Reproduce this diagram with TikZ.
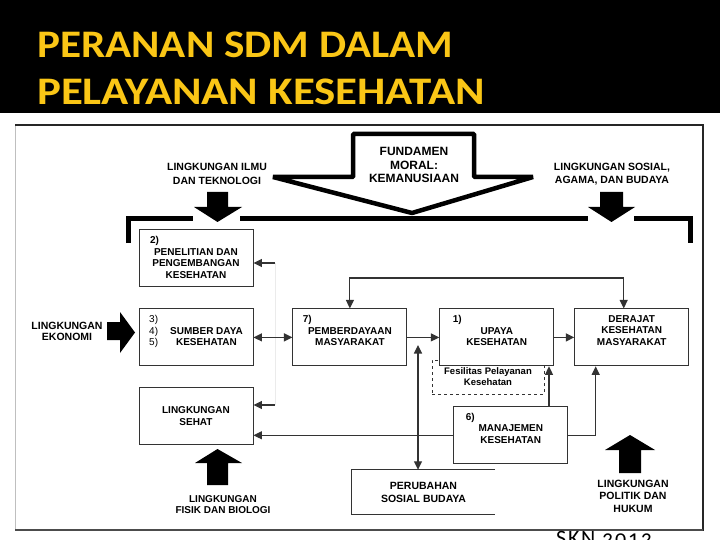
\documentclass[tikz,border=0pt]{standalone}
\usepackage{fontspec}
\setmainfont{Liberation Sans}
\newfontfamily\titlefont{Carlito}
\newfontfamily\sknfont[LetterSpace=8,Numbers=OldStyle]{Carlito}
\usetikzlibrary{positioning,arrows.meta}
\definecolor{titleyellow}{RGB}{250,198,22}

\begin{document}
\begin{tikzpicture}[
        x=1pt, y=-1pt,
        >={Stealth[length=8.5pt,width=8pt,inset=0pt]},
        block/.style={draw=black!80, line width=0.9pt, fill=white, minimum width=114pt, minimum height=57pt, align=center, inner sep=2pt, font=\fontsize{10}{11.5}\selectfont\bfseries},
        raised/.style={text depth=14pt},
        envlabel/.style={align=center, font=\fontsize{10.5}{13.5}\selectfont\bfseries},
        titletext/.style={anchor=base west, text=titleyellow, inner sep=0pt, font=\titlefont\bfseries\fontsize{39}{48}\selectfont},
        link/.style={draw=black!80, line width=1.1pt},
        bar/.style={line width=5pt}
    ]
        \useasboundingbox (0,0) rectangle (720,540);

        % Header
        \fill[black] (0,0) rectangle (720,113);
        \node (title) [titletext, xscale=1.105] at (37,58) {PERANAN SDM DALAM};
        \node (subtitle) [titletext, xscale=1.15] at (37,105) {PELAYANAN KESEHATAN};

        % Frame
        \draw[black!25, line width=1pt] (15,125) -- (15,530);
        \draw[black!85, line width=1.3pt] (15,125) -- (703,125) -- (703,531);
        \draw[black!70, line width=1.3pt] (15,530) -- (703,530);
        \node (skn) [anchor=base west, inner sep=0pt, font=\sknfont\fontsize{22}{22}\selectfont] at (556,545) {SKN 2012};

        % Fundamen moral
        \draw[line width=4.5pt, line join=bevel, fill=white] (353,134) -- (474,134) -- (474,177) -- (533,177) -- (412,213) -- (273,177) -- (353,177) -- cycle;
        \node (fundamen) [align=center, font=\fontsize{12}{13.5}\selectfont\bfseries] at (414,165) {FUNDAMEN\\MORAL:\\KEMANUSIAAN};

        % Top bar
        \draw[bar] (128,243) -- (128,219) -- (193,219);
        \draw[bar] (240,219) -- (588,219);
        \draw[bar] (634,219) -- (690,219) -- (690,243);

        % Environments
        \node (ilmu) [envlabel] at (217,174) {LINGKUNGAN ILMU\\DAN TEKNOLOGI};
        \fill (207,192) -- (228,192) -- (228,207) -- (242,207) -- (217.5,222) -- (194,207) -- (207,207) -- cycle;
        \node (sosial) [envlabel] at (612,174) {LINGKUNGAN SOSIAL,\\AGAMA, DAN BUDAYA};
        \fill (600,192) -- (623,192) -- (623,207) -- (635,207) -- (611.5,222) -- (588,207) -- (600,207) -- cycle;
        \node (ekonomi) [envlabel, font=\fontsize{10.5}{11}\selectfont\bfseries] at (67,331) {LINGKUNGAN\\EKONOMI};
        \fill (107,322) -- (120,322) -- (120,312) -- (135,332.5) -- (120,353) -- (120,340) -- (107,340) -- cycle;
        \node (fisik) [envlabel, font=\fontsize{10}{11}\selectfont\bfseries] at (223,505) {LINGKUNGAN\\FISIK DAN BIOLOGI};
        \fill (207,485) -- (207,463) -- (195,463) -- (217.5,449) -- (242,463) -- (228,463) -- (228,485) -- cycle;
        \node (politik) [envlabel, font=\fontsize{10.5}{12.5}\selectfont\bfseries] at (633,496) {LINGKUNGAN\\POLITIK DAN\\HUKUM};
        \fill (619,473) -- (619,450) -- (605,450) -- (630,435) -- (655,450) -- (641,450) -- (641,473) -- cycle;

        % Subsystems
        \node (litbang) [block] at (196,257.5) {\hbox to 92pt{2)\hfill}\\PENELITIAN DAN\\PENGEMBANGAN\\KESEHATAN};
        \node (sdk) [block, raised, below=22pt of litbang] {\begin{tabular}[b]{@{}l@{\hspace{12pt}}c@{}}{\mdseries 3)} & \\ {\mdseries 4)} & SUMBER DAYA\\ {\mdseries 5)} & KESEHATAN\end{tabular}};
        \node (sehat) [block, below=21pt of sdk] {LINGKUNGAN\\SEHAT};
        \node (pemb) [block, raised, right=39pt of sdk] {\hbox to 94pt{7)\hfill}\\PEMBERDAYAAN\\MASYARAKAT};
        \node (fasilitas) [draw=black!80, dashed, line width=0.8pt, minimum width=112pt, minimum height=34pt, align=center, font=\fontsize{9.5}{11}\selectfont\bfseries] at (488,377) {Fesilitas Pelayanan\\Kesehatan};
        \node (upaya) [block, raised, right=32pt of pemb] {\hbox to 88pt{1)\hfill}\\UPAYA\\KESEHATAN};
        \node (derajat) [block, raised, right=20pt of upaya] {DERAJAT\\KESEHATAN\\MASYARAKAT};
        \node (manaj) [block, raised, below=40pt of upaya, xshift=14pt] {\hbox to 90pt{6)\hfill}\\MANAJEMEN\\KESEHATAN};
        \node (perubahan) [minimum width=143pt, minimum height=44pt, align=center, font=\fontsize{10.5}{13}\selectfont\bfseries] at (423.5,492) {PERUBAHAN\\SOSIAL BUDAYA};
        \draw[black!80, line width=0.9pt] (perubahan.north east) -- (perubahan.north west) -- (perubahan.south west) -- (perubahan.south east);

        % Connections
        \coordinate (feedhigh) at (275,263);
        \coordinate (feedlow) at (275,405);
        \coordinate (looptop) at (0,278);
        \coordinate (upbar) at (549,0);
        \coordinate (sosbar) at (418,345);
        \draw[black!8, line width=1pt] (feedhigh) -- (feedlow);
        \draw[link, ->] (feedhigh) -- (feedhigh -| litbang.east);
        \draw[link, ->] (feedlow) -- (feedlow -| sehat.east);
        \draw[link, <->, line width=1.3pt] (sdk) -- (pemb);
        \draw[link, ->] (pemb) -- (upaya);
        \draw[link, ->, line width=1.7pt] (upaya) -- (derajat);
        \draw[link, <->] (pemb.north) -- (pemb.north |- looptop) -| ([xshift=-8pt]derajat.north);
        \draw[link, ->] (manaj.west) -- (manaj.west -| sehat.east);
        \draw[link, ->] (manaj.north -| upbar) -- (upaya.south -| upbar);
        \draw[link, ->] (manaj.east) -| ([xshift=-36pt]derajat.south);
        \draw[link, <->] (sosbar) -- (sosbar |- perubahan.north);

    \end{tikzpicture}
\end{document}
